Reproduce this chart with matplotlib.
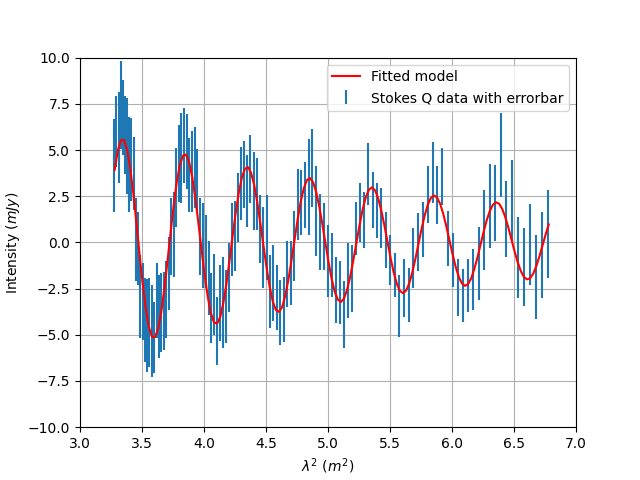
import matplotlib
matplotlib.use("Agg")
import matplotlib.pyplot as plt

# lambda^2 of each channel (m^2)
lam2 = [3.2773, 3.2940, 3.3108, 3.3277, 3.3448, 3.3620, 3.3794, 3.3968, 3.4145, 3.4322,
        3.4500, 3.4681, 3.4863, 3.5046, 3.5231, 3.5416, 3.5604, 3.5793, 3.5983, 3.6175,
        3.6369, 3.6564, 3.6761, 3.6959, 3.7159, 3.7360, 3.7563, 3.7768, 3.7975, 3.8183,
        3.8393, 3.8605, 3.8818, 3.9033, 3.9251, 3.9469, 3.9690, 3.9912, 4.0137, 4.0363,
        4.0591, 4.0821, 4.1053, 4.1287, 4.1523, 4.1761, 4.2001, 4.2244, 4.2488, 4.2734,
        4.2983, 4.3234, 4.3486, 4.3742, 4.4000, 4.4259, 4.4522, 4.4786, 4.5053, 4.5322,
        4.5593, 4.5867, 4.6144, 4.6422, 4.6705, 4.6988, 4.7275, 4.7564, 4.7856, 4.8151,
        4.8449, 4.8749, 4.9052, 4.9357, 4.9666, 4.9978, 5.0292, 5.0610, 5.0930, 5.1254,
        5.1580, 5.1910, 5.2243, 5.2579, 5.2919, 5.3262, 5.3608, 5.3957, 5.4310, 5.4667,
        5.5027, 5.5390, 5.5757, 5.6128, 5.6502, 5.6880, 5.7263, 5.7648, 5.8038, 5.8432,
        5.8830, 5.9232, 5.9638, 6.0048, 6.0462, 6.0881, 6.1303, 6.1731, 6.2163, 6.2600,
        6.3041, 6.3487, 6.3938, 6.4393, 6.4854, 6.5319, 6.5789, 6.6265, 6.6745, 6.7232,
        6.7722]

# Stokes Q (mJy)
stokes_q = [4.15, 6.00, 5.66, 7.45, 6.76, 5.80, 5.20, 4.24, 4.47, 3.74,
            0.14, -0.31, -2.93, -3.20, -4.20, -4.50, -4.33, -4.78, -5.14, -3.16,
            -4.00, -3.79, -3.70, -3.10, -1.67, 0.31, 0.45, 2.97, 4.28, 4.55,
            5.23, 4.90, 3.65, 3.86, 4.06, 3.36, 0.31, -0.18, -0.51, -1.92,
            -3.56, -2.81, -4.78, -3.29, -3.25, -3.47, -1.90, 0.14, 0.34, 1.89,
            3.20, 3.67, 2.80, 3.97, 2.79, 2.61, 0.72, -0.27, 0.25, -2.67,
            -2.20, -2.98, -3.79, -3.61, -1.70, -1.65, -0.19, 2.05, 2.16, 2.55,
            3.00, 4.04, 1.71, 0.56, 0.31, -0.99, -1.22, -2.58, -2.71, -3.90,
            -2.08, -1.94, 0.77, 1.62, 1.21, 3.70, 2.30, 1.71, 1.30, 0.14,
            -0.95, -1.76, -3.43, -2.48, -2.83, -0.86, 0.02, 0.72, 2.60, 3.77,
            2.57, 3.56, 0.22, -0.95, -2.44, -2.87, -2.34, -2.00, -1.15, 0.67,
            1.98, 2.12, 4.73, 1.26, 2.25, -0.81, -1.33, -0.11, -1.88, -0.69,
            0.47]

q_err = [2.52, 1.94, 2.46, 2.37, 2.03, 2.10, 2.60, 2.57, 2.25, 1.98,
         2.25, 1.98, 2.25, 2.10, 2.25, 2.50, 2.39, 2.48, 1.94, 2.03,
         2.25, 2.12, 2.12, 2.07, 1.98, 2.07, 2.30, 2.12, 2.07, 2.43,
         2.03, 2.03, 1.98, 2.19, 2.21, 1.70, 2.07, 2.30, 1.97, 2.00,
         1.90, 2.19, 1.85, 2.07, 2.48, 1.98, 1.85, 1.98, 1.88, 1.85,
         1.98, 1.82, 1.94, 1.85, 2.12, 1.94, 1.85, 2.21, 2.30, 1.98,
         2.07, 1.76, 1.76, 1.76, 1.78, 1.74, 1.89, 1.92, 1.76, 1.79,
         2.60, 2.10, 2.43, 2.05, 1.80, 1.94, 1.71, 1.80, 1.72, 1.82,
         2.03, 1.80, 1.44, 1.58, 1.53, 1.67, 1.53, 1.49, 1.62, 1.53,
         1.35, 1.17, 1.67, 1.58, 1.46, 1.62, 1.56, 1.49, 1.56, 1.65,
         1.57, 1.53, 1.49, 1.44, 1.54, 1.42, 1.44, 1.65, 1.97, 2.16,
         2.26, 2.07, 2.26, 2.07, 2.21, 2.21, 2.09, 2.19, 2.28, 2.32,
         2.37]

# fitted model curve
model_x = [3.280, 3.305, 3.330, 3.355, 3.380, 3.405, 3.430, 3.455, 3.480, 3.505,
           3.530, 3.555, 3.580, 3.605, 3.630, 3.655, 3.680, 3.705, 3.730, 3.755,
           3.780, 3.805, 3.830, 3.855, 3.880, 3.905, 3.930, 3.955, 3.980, 4.005,
           4.030, 4.055, 4.080, 4.105, 4.130, 4.155, 4.180, 4.205, 4.230, 4.255,
           4.280, 4.305, 4.330, 4.355, 4.380, 4.405, 4.430, 4.455, 4.480, 4.505,
           4.530, 4.555, 4.580, 4.605, 4.630, 4.655, 4.680, 4.705, 4.730, 4.755,
           4.780, 4.805, 4.830, 4.855, 4.880, 4.905, 4.930, 4.955, 4.980, 5.005,
           5.030, 5.055, 5.080, 5.105, 5.130, 5.155, 5.180, 5.205, 5.230, 5.255,
           5.280, 5.305, 5.330, 5.355, 5.380, 5.405, 5.430, 5.455, 5.480, 5.505,
           5.530, 5.555, 5.580, 5.605, 5.630, 5.655, 5.680, 5.705, 5.730, 5.755,
           5.780, 5.805, 5.830, 5.855, 5.880, 5.905, 5.930, 5.955, 5.980, 6.005,
           6.030, 6.055, 6.080, 6.105, 6.130, 6.155, 6.180, 6.205, 6.230, 6.255,
           6.280, 6.305, 6.330, 6.355, 6.380, 6.405, 6.430, 6.455, 6.480, 6.505,
           6.530, 6.555, 6.580, 6.605, 6.630, 6.655, 6.680, 6.705, 6.730, 6.755,
           6.780]
model_y = [3.93, 4.98, 5.53, 5.54, 5.02, 4.02, 2.65, 1.05, -0.63, -2.22,
           -3.57, -4.56, -5.10, -5.13, -4.67, -3.77, -2.52, -1.05, 0.50, 1.98,
           3.25, 4.18, 4.69, 4.75, 4.35, 3.54, 2.39, 1.04, -0.39, -1.76,
           -2.94, -3.82, -4.32, -4.40, -4.05, -3.31, -2.27, -1.03, 0.30, 1.57,
           2.67, 3.50, 3.98, 4.07, 3.76, 3.10, 2.15, 1.01, -0.21, -1.39,
           -2.42, -3.20, -3.66, -3.76, -3.50, -2.90, -2.04, -0.99, 0.14, 1.24,
           2.20, 2.93, 3.37, 3.48, 3.25, 2.72, 1.93, 0.96, -0.08, -1.09,
           -1.99, -2.68, -3.10, -3.22, -3.02, -2.54, -1.82, -0.94, 0.02, 0.96,
           1.80, 2.45, 2.85, 2.98, 2.81, 2.38, 1.72, 0.91, 0.02, -0.85,
           -1.63, -2.24, -2.62, -2.75, -2.61, -2.22, -1.62, -0.88, -0.06, 0.75,
           1.47, 2.04, 2.41, 2.54, 2.42, 2.08, 1.53, 0.85, 0.10, -0.65,
           -1.33, -1.87, -2.22, -2.35, -2.25, -1.94, -1.44, -0.82, -0.13, 0.57,
           1.20, 1.70, 2.04, 2.17, 2.09, 1.81, 1.36, 0.79, 0.15, -0.49,
           -1.08, -1.55, -1.87, -2.00, -1.94, -1.69, -1.28, -0.76, -0.17, 0.43,
           0.97]

fig, ax = plt.subplots(figsize=(6.4, 4.8), dpi=100)
ax.errorbar(lam2, stokes_q, yerr=q_err, fmt='none', label='Stokes Q data with errorbar')
ax.plot(model_x, model_y, 'r-', label='Fitted model')
ax.set_xlim(3, 7)
ax.set_ylim(-10, 10)
ax.set_xlabel(r'$\lambda^2$ $(m^2)$')
ax.set_ylabel(r'Intensity $(mJy)$')
ax.grid(True)
ax.legend(loc='upper right')
fig.savefig('out.png')
